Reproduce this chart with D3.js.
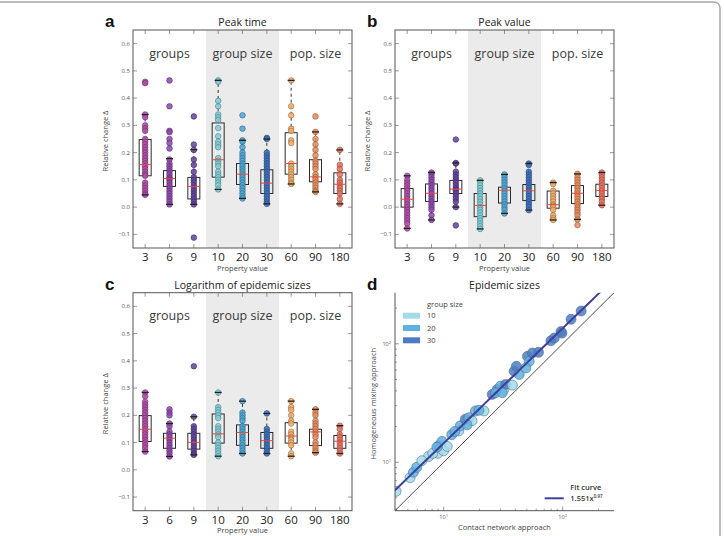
<!DOCTYPE html>
<html>
<head>
<meta charset="utf-8">
<script src="https://cdn.jsdelivr.net/npm/d3@7"></script>
<style>
body { margin: 0; background: #fff; }
svg { display: block; font-family: "Open Sans", sans-serif; }
</style>
</head>
<body>
<div id="chart"></div>
<script>
// categories on the x axis of panels a-c
var categories = ['3', '6', '9', '10', '20', '30', '60', '90', '180'];
var sectionLabels = ['groups', 'group size', 'pop. size'];
var yTicks = [-0.1, 0.0, 0.1, 0.2, 0.3, 0.4, 0.5, 0.6];
var catColors = ['#b04aa6', '#8e47ae', '#62439a', '#7ecdd6', '#4ea6d4', '#3d6fbc', '#eeab68', '#e58c5a', '#e6735f'];

// panel a - peak time
var peakTimePoints = [
    [0.46, 0.455, 0.34, 0.33, 0.30, 0.29, 0.28, 0.25, 0.24, 0.23, 0.22, 0.21, 0.20, 0.19, 0.18, 0.17, 0.16, 0.15, 0.14, 0.13, 0.12, 0.115, 0.09, 0.08, 0.07, 0.06, 0.05, 0.045],
    [0.465, 0.37, 0.28, 0.275, 0.25, 0.235, 0.215, 0.175, 0.16, 0.15, 0.14, 0.13, 0.12, 0.11, 0.105, 0.1, 0.09, 0.08, 0.07, 0.06, 0.05, 0.04, 0.03, 0.02, 0.01],
    [0.333, 0.23, 0.21, 0.175, 0.155, 0.13, 0.11, 0.1, 0.09, 0.08, 0.07, 0.06, 0.05, 0.04, 0.03, 0.02, 0.01, -0.112],
    [0.465, 0.46, 0.39, 0.37, 0.34, 0.33, 0.32, 0.29, 0.26, 0.24, 0.23, 0.22, 0.18, 0.17, 0.16, 0.15, 0.13, 0.12, 0.11, 0.1, 0.09, 0.08, 0.065],
    [0.337, 0.288, 0.245, 0.24, 0.22, 0.2, 0.19, 0.18, 0.17, 0.16, 0.15, 0.14, 0.13, 0.12, 0.11, 0.1, 0.09, 0.08, 0.07, 0.06, 0.05, 0.04, 0.032],
    [0.254, 0.25, 0.2, 0.19, 0.18, 0.17, 0.16, 0.15, 0.14, 0.13, 0.12, 0.11, 0.1, 0.09, 0.08, 0.07, 0.06, 0.05, 0.04, 0.03, 0.02, 0.012],
    [0.465, 0.37, 0.337, 0.288, 0.28, 0.245, 0.235, 0.16, 0.15, 0.14, 0.13, 0.12, 0.11, 0.1, 0.09, 0.085],
    [0.333, 0.276, 0.25, 0.23, 0.21, 0.19, 0.17, 0.16, 0.15, 0.14, 0.12, 0.11, 0.1, 0.09, 0.08, 0.07, 0.06, 0.056],
    [0.21, 0.155, 0.14, 0.12, 0.1, 0.09, 0.08, 0.07, 0.06, 0.05, 0.03, 0.012]
];
// [whisker low, q1, median, q3, whisker high]
var peakTimeBoxes = [
    [0.045, 0.115, 0.156, 0.248, 0.34],
    [0.01, 0.076, 0.105, 0.134, 0.178],
    [0.01, 0.03, 0.076, 0.109, 0.211],
    [0.065, 0.11, 0.174, 0.309, 0.465],
    [0.032, 0.083, 0.121, 0.16, 0.245],
    [0.012, 0.05, 0.088, 0.137, 0.25],
    [0.085, 0.121, 0.16, 0.273, 0.465],
    [0.056, 0.093, 0.111, 0.174, 0.276],
    [0.012, 0.05, 0.084, 0.126, 0.21]
];

// panel b - peak value
var peakValuePoints = [
    [0.115, 0.1, 0.09, 0.08, 0.07, 0.06, 0.05, 0.04, 0.03, 0.02, 0.01, 0.0, -0.01, -0.02, -0.03, -0.04, -0.05, -0.06, -0.078],
    [0.127, 0.12, 0.11, 0.1, 0.09, 0.08, 0.07, 0.06, 0.05, 0.04, 0.03, 0.02, 0.01, 0.0, -0.01, -0.03, -0.047],
    [0.248, 0.162, 0.16, 0.13, 0.12, 0.11, 0.1, 0.09, 0.08, 0.07, 0.065, 0.06, 0.05, 0.04, 0.03, 0.02, 0.0, -0.067],
    [0.098, 0.09, 0.08, 0.07, 0.06, 0.05, 0.04, 0.03, 0.02, 0.01, 0.0, -0.01, -0.02, -0.03, -0.04, -0.05, -0.06, -0.07, -0.08],
    [0.12, 0.11, 0.1, 0.09, 0.08, 0.07, 0.06, 0.05, 0.04, 0.03, 0.02, 0.01, 0.0, -0.01, -0.023],
    [0.16, 0.155, 0.13, 0.12, 0.11, 0.1, 0.09, 0.08, 0.07, 0.06, 0.05, 0.04, 0.03, 0.02, 0.01, 0.0, -0.011],
    [0.09, 0.085, 0.06, 0.05, 0.04, 0.03, 0.02, 0.01, 0.005, 0.0, -0.01, -0.03, -0.04, -0.047],
    [0.122, 0.11, 0.1, 0.09, 0.08, 0.07, 0.06, 0.05, 0.04, 0.03, 0.02, 0.01, 0.0, -0.01, -0.02, -0.03, -0.045, -0.066],
    [0.127, 0.12, 0.11, 0.1, 0.09, 0.08, 0.07, 0.06, 0.05, 0.04, 0.03, 0.02, 0.007]
];
var peakValueBoxes = [
    [-0.078, 0.0, 0.029, 0.068, 0.115],
    [-0.047, 0.021, 0.051, 0.085, 0.127],
    [0.0, 0.05, 0.066, 0.098, 0.162],
    [-0.08, -0.035, 0.006, 0.05, 0.098],
    [-0.023, 0.015, 0.062, 0.073, 0.12],
    [-0.011, 0.024, 0.06, 0.083, 0.16],
    [-0.047, -0.004, 0.009, 0.059, 0.09],
    [-0.045, 0.013, 0.051, 0.079, 0.122],
    [0.007, 0.039, 0.061, 0.084, 0.127]
];

// panel c - logarithm of epidemic sizes
var logSizePoints = [
    [0.284, 0.27, 0.25, 0.24, 0.23, 0.22, 0.21, 0.2, 0.19, 0.18, 0.17, 0.16, 0.15, 0.14, 0.13, 0.12, 0.11, 0.1, 0.09, 0.08, 0.067],
    [0.222, 0.21, 0.2, 0.17, 0.16, 0.14, 0.13, 0.12, 0.11, 0.1, 0.09, 0.08, 0.07, 0.06, 0.049],
    [0.38, 0.195, 0.16, 0.15, 0.14, 0.13, 0.12, 0.11, 0.1, 0.09, 0.08, 0.07, 0.06, 0.055],
    [0.284, 0.23, 0.22, 0.21, 0.2, 0.19, 0.16, 0.15, 0.14, 0.13, 0.12, 0.1, 0.09, 0.08, 0.07, 0.06, 0.05],
    [0.252, 0.21, 0.2, 0.19, 0.18, 0.16, 0.15, 0.14, 0.13, 0.12, 0.11, 0.1, 0.09, 0.08, 0.07, 0.06],
    [0.207, 0.15, 0.14, 0.13, 0.12, 0.11, 0.1, 0.09, 0.08, 0.07, 0.06],
    [0.252, 0.23, 0.22, 0.2, 0.18, 0.17, 0.14, 0.13, 0.12, 0.11, 0.1, 0.09, 0.06, 0.05],
    [0.222, 0.21, 0.2, 0.18, 0.17, 0.16, 0.15, 0.14, 0.13, 0.12, 0.1, 0.09, 0.08, 0.07, 0.063],
    [0.162, 0.15, 0.13, 0.12, 0.11, 0.1, 0.09, 0.08, 0.07, 0.06]
];
var logSizeBoxes = [
    [0.067, 0.104, 0.149, 0.199, 0.284],
    [0.049, 0.079, 0.116, 0.134, 0.17],
    [0.055, 0.076, 0.101, 0.134, 0.195],
    [0.05, 0.098, 0.132, 0.205, 0.284],
    [0.06, 0.09, 0.137, 0.165, 0.252],
    [0.06, 0.079, 0.107, 0.137, 0.207],
    [0.05, 0.098, 0.124, 0.173, 0.252],
    [0.063, 0.089, 0.139, 0.149, 0.222],
    [0.06, 0.079, 0.105, 0.126, 0.162]
];

// panel d - epidemic sizes, contact network (x) vs homogeneous mixing (y)
var epiX = [3.98, 5.22, 5.57, 5.94, 7.47, 8.95, 9.08, 9.68, 10, 10.7, 11.7, 13.4, 13.8, 15.2, 16.3, 17.3, 18.5, 21.8, 25.6, 28.2, 30.1, 32.1, 33.2, 27.3, 37.8, 39.1, 40.8, 43.1, 50.6, 52.3, 49, 62.7, 79.6, 85.1, 96.8, 117.5, 143, 98.6, 6.56, 8.1, 8.77, 12.4, 15.7, 19.8, 31.1, 55.7];
var epiY = [5.68, 7.4, 8.24, 9.08, 11.2, 11.9, 13.8, 15.0, 12.5, 13.6, 17.1, 18.4, 20.3, 23.1, 23.8, 22.4, 27.1, 27.1, 37.4, 41.2, 44, 41.2, 45.4, 38.6, 44.8, 58.7, 64.6, 55.1, 78.4, 71.1, 62.5, 84.7, 106, 112, 127, 161, 189, 123, 10.3, 11.9, 13.4, 18.2, 20.7, 27.5, 38.6, 83.6];
var epiGroup = [10, 10, 20, 20, 10, 10, 20, 20, 10, 10, 20, 10, 20, 30, 20, 10, 20, 10, 30, 30, 20, 10, 30, 20, 10, 30, 30, 20, 30, 20, 20, 30, 30, 30, 30, 30, 30, 30, 10, 10, 20, 20, 20, 20, 20, 30];
var groupSizes = [10, 20, 30];
var groupColors = ['#a3dce9', '#5fb1df', '#4d7cc2'];
var fitA = 1.551, fitB = 0.97;

var width = 724, height = 536;
var svg = d3.select('#chart').append('svg')
    .attr('width', width)
    .attr('height', height);

// outer frame of the figure
svg.append('rect')
    .attr('x', -10).attr('y', 2)
    .attr('width', 730).attr('height', 600)
    .attr('rx', 6)
    .style('fill', 'none')
    .style('stroke', '#a8a8a8')
    .style('stroke-width', 1.5);

var pw = 219, ph = 218;

function boxPanel(left, top, letter, title, points, boxes, yLabelX, tickLabelX) {
    var g = svg.append('g').attr('transform', 'translate(' + left + ',' + top + ')');
    var x = d3.scaleBand().domain(categories).range([0, pw]).padding(0);
    var y = d3.scaleLinear().domain([-0.15, 0.65]).range([ph, 0]);
    var bw = x.bandwidth();

    // shaded "group size" section
    g.append('rect')
        .attr('x', x('10')).attr('y', 0)
        .attr('width', x('30') + bw - x('10')).attr('height', ph)
        .style('fill', '#ebebeb');

    // section labels
    g.selectAll('.sec')
        .data(sectionLabels)
        .enter().append('text')
        .attr('x', (d, i) => x(categories[i * 3]) + bw * 1.5)
        .attr('y', y(0.6) + 14)
        .attr('text-anchor', 'middle')
        .style('font-size', '12.5px')
        .style('fill', '#3a3a3a')
        .text(d => d);

    // whiskers (dashed)
    g.selectAll('.whisk')
        .data(boxes.flatMap((b, i) => [[i, b[0], b[1]], [i, b[3], b[4]]]))
        .enter().append('line')
        .attr('x1', d => x(categories[d[0]]) + bw / 2)
        .attr('x2', d => x(categories[d[0]]) + bw / 2)
        .attr('y1', d => y(d[1]))
        .attr('y2', d => y(d[2]))
        .style('stroke', '#333')
        .style('stroke-width', 1)
        .style('stroke-dasharray', '3,3');

    // boxes
    g.selectAll('.box')
        .data(boxes)
        .enter().append('rect')
        .attr('x', (d, i) => x(categories[i]) + bw / 2 - 6)
        .attr('y', d => y(d[3]))
        .attr('width', 12)
        .attr('height', d => y(d[1]) - y(d[3]))
        .style('fill', 'none')
        .style('stroke', '#2a2a2a')
        .style('stroke-width', 1);

    // points
    points.forEach(function(vals, i) {
        var c = catColors[i];
        g.append('g').selectAll('circle')
            .data(vals)
            .enter().append('circle')
            .attr('cx', x(categories[i]) + bw / 2)
            .attr('cy', d => y(d))
            .attr('r', 2.8)
            .style('fill', c)
            .style('fill-opacity', 0.85)
            .style('stroke', d3.color(c).darker(1.3))
            .style('stroke-width', 0.6);
    });

    // caps
    g.selectAll('.cap')
        .data(boxes.flatMap((b, i) => [[i, b[0]], [i, b[4]]]))
        .enter().append('line')
        .attr('x1', d => x(categories[d[0]]) + bw / 2 - 3.5)
        .attr('x2', d => x(categories[d[0]]) + bw / 2 + 3.5)
        .attr('y1', d => y(d[1]))
        .attr('y2', d => y(d[1]))
        .style('stroke', '#222')
        .style('stroke-width', 1.3);

    // medians
    g.selectAll('.med')
        .data(boxes)
        .enter().append('line')
        .attr('x1', (d, i) => x(categories[i]) + bw / 2 - 6)
        .attr('x2', (d, i) => x(categories[i]) + bw / 2 + 6)
        .attr('y1', d => y(d[2]))
        .attr('y2', d => y(d[2]))
        .style('stroke', '#e8483e')
        .style('stroke-width', 1);

    // ticks inside on all four sides
    yTicks.forEach(function(t) {
        g.append('line').attr('x1', 0).attr('x2', 4).attr('y1', y(t)).attr('y2', y(t)).style('stroke', '#555').style('stroke-width', 0.6);
        g.append('line').attr('x1', pw - 4).attr('x2', pw).attr('y1', y(t)).attr('y2', y(t)).style('stroke', '#555').style('stroke-width', 0.6);
    });
    categories.forEach(function(cat) {
        var cx = x(cat) + bw / 2;
        g.append('line').attr('x1', cx).attr('x2', cx).attr('y1', ph).attr('y2', ph - 4).style('stroke', '#555').style('stroke-width', 0.6);
        g.append('line').attr('x1', cx).attr('x2', cx).attr('y1', 0).attr('y2', 4).style('stroke', '#555').style('stroke-width', 0.6);
    });

    // frame
    g.append('rect')
        .attr('width', pw).attr('height', ph)
        .style('fill', 'none')
        .style('stroke', '#555')
        .style('stroke-width', 1);

    // y tick labels
    g.selectAll('.yl')
        .data(yTicks)
        .enter().append('text')
        .attr('x', tickLabelX)
        .attr('y', d => y(d) + 2)
        .attr('text-anchor', 'end')
        .style('font-size', '6px')
        .style('fill', '#555')
        .text(d => d3.format('.1f')(d));

    // x tick labels
    g.selectAll('.xl')
        .data(categories)
        .enter().append('text')
        .attr('x', d => x(d) + bw / 2)
        .attr('y', ph + 13)
        .attr('text-anchor', 'middle')
        .style('font-size', '11.5px')
        .style('fill', '#222')
        .text(d => d);

    g.append('text')
        .attr('x', pw / 2).attr('y', ph + 22.5)
        .attr('text-anchor', 'middle')
        .style('font-size', '7.5px')
        .style('fill', '#444')
        .text('Property value');

    g.append('text')
        .attr('transform', 'translate(' + yLabelX + ',' + (ph / 2 + 2) + ') rotate(-90)')
        .attr('text-anchor', 'middle')
        .style('font-size', '7.5px')
        .style('fill', '#444')
        .text('Relative change  \u0394');

    g.append('text')
        .attr('x', pw / 2).attr('y', -4)
        .attr('text-anchor', 'middle')
        .style('font-size', '10.5px')
        .style('fill', '#222')
        .text(title);

    g.append('text')
        .attr('x', -28).attr('y', -3)
        .style('font-family', 'Liberation Sans, Arial, sans-serif')
        .style('font-weight', 'bold')
        .style('font-size', '17px')
        .style('fill', '#111')
        .text(letter);
}

boxPanel(133, 30, 'a', 'Peak time', peakTimePoints, peakTimeBoxes, -25, -3);
boxPanel(395, 30, 'b', 'Peak value', peakValuePoints, peakValueBoxes, -25, -3);
boxPanel(133, 292.7, 'c', 'Logarithm of epidemic sizes', logSizePoints, logSizeBoxes, -25, -3);

// panel d
var gd = svg.append('g').attr('transform', 'translate(395,292.7)');
var lx = d3.scaleLog().domain([3.9, 270]).range([0, pw]);
var ly = d3.scaleLog().domain([3.9, 270]).range([ph, 0]);

gd.append('clipPath').attr('id', 'clipd')
    .append('rect').attr('width', pw).attr('height', ph);

var plot = gd.append('g').attr('clip-path', 'url(#clipd)');

// identity line
plot.append('line')
    .attr('x1', lx(3.9)).attr('y1', ly(3.9))
    .attr('x2', lx(270)).attr('y2', ly(270))
    .style('stroke', '#222')
    .style('stroke-width', 0.8);

// points
plot.selectAll('circle')
    .data(epiX.map((v, i) => ({ x: v, y: epiY[i], g: epiGroup[i] })))
    .enter().append('circle')
    .attr('cx', d => lx(d.x))
    .attr('cy', d => ly(d.y))
    .attr('r', 5)
    .style('fill', d => groupColors[groupSizes.indexOf(d.g)])
    .style('fill-opacity', 0.85)
    .style('stroke', '#4f6f8c')
    .style('stroke-width', 0.6);

// fit curve
var fitXs = d3.range(0, 61).map(i => 3.9 * Math.pow(270 / 3.9, i / 60));
plot.append('path')
    .datum(fitXs)
    .attr('d', d3.line().x(d => lx(d)).y(d => ly(fitA * Math.pow(d, fitB))))
    .style('fill', 'none')
    .style('stroke', '#3d3f9e')
    .style('stroke-width', 2);

// log ticks
var logTicks = lx.ticks();
logTicks.forEach(function(t) {
    var major = Math.abs(Math.log10(t) - Math.round(Math.log10(t))) < 1e-6;
    var len = major ? 4 : 2;
    gd.append('line').attr('x1', lx(t)).attr('x2', lx(t)).attr('y1', ph).attr('y2', ph - len).style('stroke', '#555').style('stroke-width', 0.6);
    gd.append('line').attr('x1', 0).attr('x2', len).attr('y1', ly(t)).attr('y2', ly(t)).style('stroke', '#555').style('stroke-width', 0.6);
});

// axes lines (left and bottom only)
gd.append('line').attr('x1', 0).attr('x2', 0).attr('y1', 0).attr('y2', ph).style('stroke', '#555').style('stroke-width', 1);
gd.append('line').attr('x1', 0).attr('x2', pw).attr('y1', ph).attr('y2', ph).style('stroke', '#555').style('stroke-width', 1);

// decade labels
[10, 100].forEach(function(t) {
    var e = Math.round(Math.log10(t));
    var tx = gd.append('text')
        .attr('x', lx(t)).attr('y', ph + 8)
        .attr('text-anchor', 'middle')
        .style('font-size', '5.5px')
        .style('fill', '#555');
    tx.append('tspan').text('10');
    tx.append('tspan').attr('dy', -2).style('font-size', '4px').text(e);
    var ty = gd.append('text')
        .attr('x', -4).attr('y', ly(t) + 2)
        .attr('text-anchor', 'end')
        .style('font-size', '5.5px')
        .style('fill', '#555');
    ty.append('tspan').text('10');
    ty.append('tspan').attr('dy', -2).style('font-size', '4px').text(e);
});

gd.append('text')
    .attr('x', pw / 2).attr('y', ph + 19.5)
    .attr('text-anchor', 'middle')
    .style('font-size', '7.5px')
    .style('fill', '#444')
    .text('Contact network approach');

gd.append('text')
    .attr('transform', 'translate(-19,' + (ph / 2 + 2) + ') rotate(-90)')
    .attr('text-anchor', 'middle')
    .style('font-size', '7.5px')
    .style('fill', '#444')
    .text('Homogeneous mixing approach');

gd.append('text')
    .attr('x', pw / 2).attr('y', -4)
    .attr('text-anchor', 'middle')
    .style('font-size', '10.5px')
    .style('fill', '#222')
    .text('Epidemic sizes');

gd.append('text')
    .attr('x', -28).attr('y', -3)
    .style('font-family', 'Liberation Sans, Arial, sans-serif')
    .style('font-weight', 'bold')
    .style('font-size', '17px')
    .style('fill', '#111')
    .text('d');

// group size legend
var leg = gd.append('g').attr('transform', 'translate(8,8)');
leg.append('text')
    .attr('x', 24).attr('y', 6)
    .style('font-size', '7.5px')
    .style('fill', '#444')
    .text('group size');
leg.selectAll('rect')
    .data(groupSizes)
    .enter().append('rect')
    .attr('x', 0)
    .attr('y', (d, i) => 12 + i * 12.3)
    .attr('width', 17).attr('height', 6)
    .style('fill', (d, i) => groupColors[i]);
leg.selectAll('.lt')
    .data(groupSizes)
    .enter().append('text')
    .attr('x', 24)
    .attr('y', (d, i) => 17.8 + i * 12.3)
    .style('font-size', '7.5px')
    .style('fill', '#444')
    .text(d => d);

// fit legend
gd.append('text')
    .attr('x', 175.3).attr('y', ph - 21)
    .style('font-size', '7.5px')
    .style('font-weight', '600')
    .style('fill', '#333')
    .text('Fit curve');
gd.append('line')
    .attr('x1', 149.7).attr('x2', 168.7)
    .attr('y1', ph - 12.4).attr('y2', ph - 12.4)
    .style('stroke', '#3d3f9e')
    .style('stroke-width', 2);
var fitText = gd.append('text')
    .attr('x', 175.3).attr('y', ph - 9.8)
    .style('font-size', '7.5px')
    .style('font-weight', '600')
    .style('fill', '#333');
fitText.append('tspan').text(d3.format('.3f')(fitA) + 'x');
fitText.append('tspan').attr('dy', -3).style('font-size', '4.5px').text(d3.format('.2f')(fitB));
</script>
</body>
</html>
